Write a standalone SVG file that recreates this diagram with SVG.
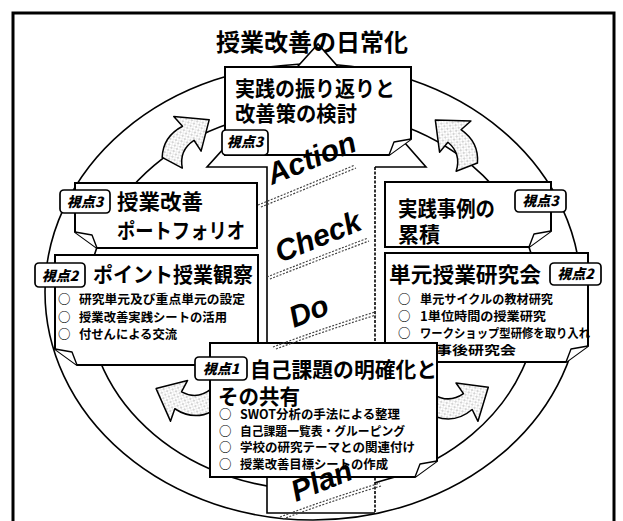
<svg xmlns="http://www.w3.org/2000/svg" width="623" height="521" viewBox="0 0 623 521">
<defs>
<pattern id="stip" width="4" height="4" patternUnits="userSpaceOnUse">
<rect width="4" height="4" fill="#fff"/>
<circle cx="1" cy="1" r="0.7" fill="#8a8a8a"/>
<circle cx="3" cy="3" r="0.5" fill="#a8a8a8"/>
</pattern>
<path id="carrow" d="M0,4 Q12,-13 34,-11 L32,-24 L60,-2 L36,20 L36,7 Q18,7 11,24 Z"/>
</defs>
<style>
.ln{fill:none;stroke:#000;stroke-width:1.6}
.box{fill:#fff;stroke:#000;stroke-width:2}
.fold{fill:#fff;stroke:#000;stroke-width:1.4;stroke-linejoin:round}
.lbl{fill:#fff;stroke:#000;stroke-width:1.7}
.lt{font-family:"Noto Sans CJK JP",sans-serif;font-weight:900;font-style:italic;font-size:14px;text-anchor:middle}
.hd{font-family:"Noto Sans CJK JP",sans-serif;font-weight:700;font-size:21px}
.it{font-family:"Noto Sans CJK JP",sans-serif;font-weight:700;font-size:12.5px}
.pd{font-family:"Liberation Sans",Arial,sans-serif;font-style:italic;font-weight:700;font-size:30px}
.ca{fill:url(#stip);stroke:#000;stroke-width:1.5;stroke-linejoin:round}
.ul{fill:none;stroke:#444;stroke-width:1.2;stroke-dasharray:2 1.5}
</style>
<rect width="623" height="521" fill="#fff"/>
<g id="frame"><path d="M13,530 V13 H614 V530" fill="none" stroke="#000" stroke-width="3"/></g>
<g id="rings">
<ellipse cx="313" cy="292" rx="268" ry="228" class="ln"/>
<ellipse cx="313" cy="300" rx="225" ry="190" class="ln"/>
</g>
<g id="pdca-arrow">
<path d="M318,44 L426,167 L375,167 L375,513 L267,513 L267,167 L207,167 Z" fill="#fff" stroke="none"/>
<path d="M375,167 L426,167 L318,44 L207,167 L267,167 L267,513 L375,513" class="ln"/>
<path d="M375,167 V513" fill="none" stroke="#000" stroke-width="1.6" stroke-dasharray="3 1.5"/>
</g>
<g id="connectors">
<use href="#carrow" class="ca" transform="translate(160,154) rotate(-33)"/>
<use href="#carrow" class="ca" transform="translate(480,160) rotate(-140) scale(1,-1)"/>
<use href="#carrow" class="ca" transform="translate(210,415) rotate(-152)"/>
<use href="#carrow" class="ca" transform="translate(438,420) rotate(-35) scale(1,-1)"/>
</g>
<g id="title"><text x="312" y="51" font-family="Noto Sans CJK JP,sans-serif" font-weight="700" font-size="24" text-anchor="middle">授業改善の日常化</text></g>
<g id="node-action">
<path class="box" d="M225,67 H411 V139 L389,155 H225 Z"/>
<path class="fold" d="M389,155 L394,142 L411,139"/>
<text class="hd" x="235" y="96" textLength="160" lengthAdjust="spacingAndGlyphs">実践の振り返りと</text>
<text class="hd" x="235" y="121" textLength="122" lengthAdjust="spacingAndGlyphs">改善策の検討</text>
<rect class="lbl" x="222" y="130" width="46" height="25" rx="4"/>
<text class="lt" x="245" y="147">視点3</text>
</g>
<g id="node-portfolio">
<path class="box" d="M75,183 H257 V248 H97 L75,232 Z"/>
<path class="fold" d="M97,248 L92,235 L75,232"/>
<text class="hd" x="117" y="209" textLength="86" lengthAdjust="spacingAndGlyphs">授業改善</text>
<text class="hd" x="117" y="238" textLength="128" lengthAdjust="spacingAndGlyphs">ポートフォリオ</text>
<rect class="lbl" x="60" y="190" width="50" height="23" rx="4"/>
<text class="lt" x="85" y="207">視点3</text>
</g>
<g id="node-observation">
<path class="box" d="M55,255 H258 V365 H77 L55,349 Z"/>
<path class="fold" d="M77,365 L72,352 L55,349"/>
<text class="hd" x="93" y="282" textLength="160" lengthAdjust="spacingAndGlyphs">ポイント授業観察</text>
<text class="it" x="58" y="304">○</text>
<text class="it" x="79" y="304" textLength="166" lengthAdjust="spacingAndGlyphs">研究単元及び重点単元の設定</text>
<text class="it" x="58" y="322">○</text>
<text class="it" x="79" y="322" textLength="148" lengthAdjust="spacingAndGlyphs">授業改善実践シートの活用</text>
<text class="it" x="58" y="339">○</text>
<text class="it" x="79" y="339" textLength="98" lengthAdjust="spacingAndGlyphs">付せんによる交流</text>
<rect class="lbl" x="35" y="263" width="50" height="24" rx="4"/>
<text class="lt" x="60" y="281">視点2</text>
</g>
<g id="node-cases">
<path class="box" d="M385,182 H551 V231 L529,247 H385 Z"/>
<path class="fold" d="M529,247 L534,234 L551,231"/>
<text class="hd" x="398" y="216" textLength="97" lengthAdjust="spacingAndGlyphs">実践事例の</text>
<text class="hd" x="398" y="242" textLength="42" lengthAdjust="spacingAndGlyphs">累積</text>
<rect class="lbl" x="515" y="190" width="51" height="22" rx="4"/>
<text class="lt" x="540.5" y="206">視点3</text>
</g>
<g id="node-unit">
<path class="box" d="M385,253 H588 V346 L566,362 H385 Z"/>
<path class="fold" d="M566,362 L571,349 L588,346"/>
<text class="hd" x="389" y="282" textLength="152" lengthAdjust="spacingAndGlyphs">単元授業研究会</text>
<text class="it" x="398" y="304">○</text>
<text class="it" x="420" y="304" textLength="133" lengthAdjust="spacingAndGlyphs">単元サイクルの教材研究</text>
<text class="it" x="398" y="321">○</text>
<text class="it" x="420" y="321" textLength="126" lengthAdjust="spacingAndGlyphs">1単位時間の授業研究</text>
<text class="it" x="398" y="338">○</text>
<text class="it" x="420" y="338" textLength="170" lengthAdjust="spacingAndGlyphs">ワークショップ型研修を取り入れ</text>
<text class="it" x="420" y="355" textLength="96" lengthAdjust="spacingAndGlyphs">た事後研究会</text>
<rect class="lbl" x="550" y="263" width="51" height="22" rx="4"/>
<text class="lt" x="575.5" y="279">視点2</text>
</g>
<g id="node-plan">
<path class="box" d="M210,343 H437 V461 L415,477 H210 Z"/>
<path class="fold" d="M415,477 L420,464 L437,461"/>
<text class="hd" x="250" y="377" textLength="187" lengthAdjust="spacingAndGlyphs">自己課題の明確化と</text>
<text class="hd" x="218" y="404" textLength="82" lengthAdjust="spacingAndGlyphs">その共有</text>
<text class="it" x="219" y="419">○</text>
<text class="it" x="240" y="419" textLength="160" lengthAdjust="spacingAndGlyphs">SWOT分析の手法による整理</text>
<text class="it" x="219" y="436">○</text>
<text class="it" x="240" y="436" textLength="165" lengthAdjust="spacingAndGlyphs">自己課題一覧表・グルーピング</text>
<text class="it" x="219" y="452">○</text>
<text class="it" x="240" y="452" textLength="175" lengthAdjust="spacingAndGlyphs">学校の研究テーマとの関連付け</text>
<text class="it" x="219" y="469">○</text>
<text class="it" x="240" y="469" textLength="148" lengthAdjust="spacingAndGlyphs">授業改善目標シートの作成</text>
<rect class="lbl" x="195" y="357" width="52" height="23" rx="4"/>
<text class="lt" x="221" y="374">視点1</text>
</g>
<g id="pdca-words">
<path class="ul" d="M258,205 Q300,188 355,165"/>
<path class="ul" d="M261,207 Q303,190 356,168"/>
<path class="ul" d="M267,277 Q310,260 368,238"/>
<path class="ul" d="M270,279 Q313,262 369,241"/>
<path class="ul" d="M273,347 Q318,330 375,312"/>
<path class="ul" d="M276,349 Q321,332 376,315"/>
<path class="ul" d="M280,517 Q325,500 380,483"/>
<path class="ul" d="M283,519 Q328,502 381,486"/>
<text class="pd" transform="translate(272,185) rotate(-22)">Action</text>
<text class="pd" transform="translate(280,263) rotate(-22)">Check</text>
<text class="pd" transform="translate(294,328) rotate(-22)">Do</text>
<text class="pd" transform="translate(296,502) rotate(-22)">Plan</text>
</g>
</svg>
